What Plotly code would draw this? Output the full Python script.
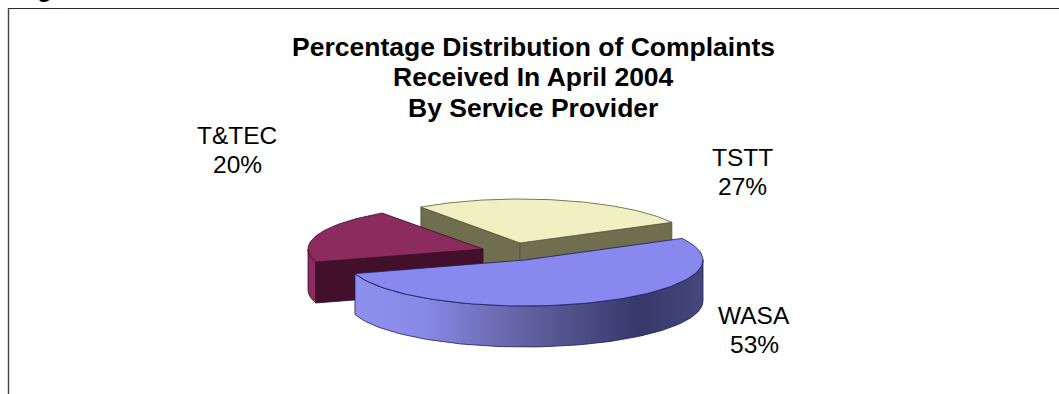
import numpy as np
import plotly.graph_objects as go

# Complaint shares by service provider
providers = ["TSTT", "T&TEC", "WASA"]
shares = [27, 20, 53]
title_lines = [
    "Percentage Distribution of Complaints",
    "Received In April 2004",
    "By Service Provider",
]

# Projection of the tilted pie, in page pixels
W, H = 1059, 394
START_DEG = 28
DEPTH = 41
CENTERS = {"TSTT": (520, 243), "T&TEC": (483, 249), "WASA": (525, 260)}
RADII = {"TSTT": (172, 44), "T&TEC": (175, 44), "WASA": (178, 46)}
TOP = {"TSTT": "#f0f0c2", "T&TEC": "#8c2b5e", "WASA": "#8888ee"}
WALL = {"TSTT": "#6f6f50", "T&TEC": "#43102c", "WASA": "#8888ee"}
EDGE = {"TSTT": "#55553c", "T&TEC": "#3a0c26", "WASA": "#1c1c5a"}

TITLE_SIZE, LABEL_SIZE = 26.5, 24.5
TITLE_X, TITLE_Y = 533, (47, 77, 107.5)
LABEL_POS = {"TSTT": (742, 166), "T&TEC": (237, 144), "WASA": (754, 324)}
LABEL_STEP = 29

fig = go.Figure()


def arc(name, a0, a1, n=90):
    cx, cy = CENTERS[name]
    rx, ry = RADII[name]
    t = np.radians(np.linspace(a0, a1, n))
    return cx + rx * np.cos(t), cy - ry * np.sin(t)


def polygon(xs, ys, fill, line=None, width=0.8, **kw):
    fig.add_trace(go.Scatter(
        x=list(xs), y=list(ys), mode="lines", fill="toself", fillcolor=fill,
        line=dict(color=line or fill, width=width), hoverinfo="skip",
        showlegend=False, **kw))


def top_face(name, a0, a1):
    x, y = arc(name, a0, a1)
    cx, cy = CENTERS[name]
    polygon(np.r_[cx, x, cx], np.r_[cy, y, cy], TOP[name], EDGE[name])


def cut_wall(name, angle):
    x, y = arc(name, angle, angle, 1)
    cx, cy = CENTERS[name]
    polygon([cx, x[0], x[0], cx, cx], [cy, y[0], y[0] + DEPTH, cy + DEPTH, cy],
            WALL[name], EDGE[name])


def rim(name, a0, a1, fill, **kw):
    x, y = arc(name, a0, a1)
    polygon(np.r_[x, x[::-1], x[0]], np.r_[y, y[::-1] + DEPTH, y[0]],
            fill, EDGE[name], **kw)


# Slice boundaries, counter-clockwise from the start angle
sweeps = [s / sum(shares) * 360 for s in shares]
a_tstt = (START_DEG, START_DEG + sweeps[0])
a_ttec = (a_tstt[1], a_tstt[1] + sweeps[1])
a_wasa = (a_ttec[1], a_ttec[1] + sweeps[2])

# Back slice: cut walls first, then its top
cut_wall("TSTT", a_tstt[1])
cut_wall("TSTT", a_tstt[0])
top_face("TSTT", *a_tstt)

# Left slice
rim("T&TEC", 180, a_ttec[1], TOP["T&TEC"])
cut_wall("T&TEC", a_ttec[1])
top_face("T&TEC", *a_ttec)

# Front slice with its shaded rim
rim("WASA", max(a_wasa[0], 180), 360, "#8888ee", fillgradient=dict(
    type="horizontal",
    colorscale=[[0, "#8f8fee"], [0.2, "#8888e6"], [0.5, "#60609f"],
                [0.82, "#36386a"], [1, "#46487c"]]))
top_face("WASA", *a_wasa)


def text_note(x, y, text, size):
    return dict(x=x, y=y, text=text, showarrow=False, xanchor="center", yanchor="middle",
                font=dict(family="Liberation Sans", size=size, color="#000000"))


annotations = [text_note(TITLE_X, y, f"<b>{t}</b>", TITLE_SIZE)
               for t, y in zip(title_lines, TITLE_Y)]

# Labels are placed by baseline; the note's centre sits about a third of the size above it
for name, share in zip(providers, shares):
    lx, base = LABEL_POS[name]
    mid = base - 0.33 * LABEL_SIZE
    annotations.append(text_note(lx, mid, name, LABEL_SIZE))
    annotations.append(text_note(lx, mid + LABEL_STEP, f"{share}%", LABEL_SIZE))

# Caption running off the top of the page: only its descender stays in view
annotations.append(dict(
    xref="paper", yref="paper", x=14 / W, y=1 + 11 / H, text="<b>Figure</b>",
    showarrow=False, xanchor="left", yanchor="middle",
    font=dict(family="Liberation Sans", size=24, color="#000000")))

# Frame around the figure: top and left edges only
shapes = [
    dict(type="line", x0=8, x1=W, y0=8.5, y1=8.5, line=dict(color="#2a2a2a", width=1.2)),
    dict(type="line", x0=8.5, x1=8.5, y0=8, y1=H, line=dict(color="#444444", width=1.4)),
]

fig.update_layout(
    width=W, height=H, margin=dict(l=0, r=0, t=0, b=0),
    paper_bgcolor="white", plot_bgcolor="white", showlegend=False,
    xaxis=dict(range=[0, W], visible=False, fixedrange=True),
    yaxis=dict(range=[H, 0], visible=False, fixedrange=True),
    annotations=annotations, shapes=shapes,
)
fig.write_html("out.html", config={"displayModeBar": False})
